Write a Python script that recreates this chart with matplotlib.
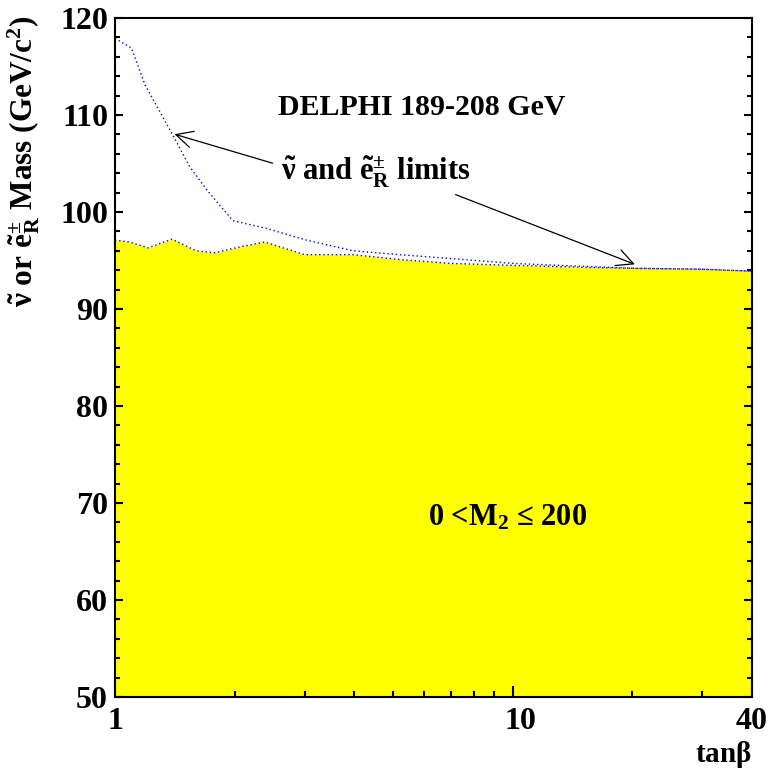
import matplotlib
matplotlib.use("Agg")
import matplotlib.pyplot as plt
import matplotlib.transforms as mtransforms
from matplotlib.ticker import FixedLocator, NullFormatter, MultipleLocator

# Data
sel_x = [1.0, 1.10, 1.19, 1.39, 1.54, 1.70, 1.98, 2.41, 3.03, 3.97, 5.2, 7.0, 10.0, 15.0, 20.0, 30.0, 40.0]
sel_y = [117.9, 116.9, 113.1, 108.1, 104.7, 102.3, 99.1, 98.3, 97.1, 96.0, 95.6, 95.2, 94.7, 94.4, 94.2, 94.1, 93.9]

snu_x = [1.0, 1.09, 1.21, 1.39, 1.60, 1.78, 2.06, 2.38, 3.0, 3.97, 5.2, 7.0, 10.0, 15.0, 20.0, 30.0, 40.0]
snu_y = [97.1, 96.9, 96.3, 97.2, 96.0, 95.8, 96.4, 96.9, 95.6, 95.6, 95.1, 94.7, 94.5, 94.3, 94.2, 94.1, 93.9]

x_major = [1, 10, 40]
x_major_labels = ["1", "10", "40"]
x_minor = [2, 3, 4, 5, 6, 7, 8, 9, 20, 30]
y_min, y_max = 50, 120

plt.rcParams['font.family'] = ['Liberation Serif', 'DejaVu Serif']
plt.rcParams['font.weight'] = 'bold'
plt.rcParams['mathtext.fontset'] = 'custom'
plt.rcParams['mathtext.rm'] = 'Liberation Serif:bold'
plt.rcParams['mathtext.it'] = 'Liberation Serif:bold'
plt.rcParams['mathtext.bf'] = 'Liberation Serif:bold'
plt.rcParams['mathtext.default'] = 'rm'

fig = plt.figure(figsize=(7.75, 7.76), dpi=100)
ax = fig.add_axes([115/775, 1 - 697/776, 637/775, (697 - 18)/776])

ax.set_xscale('log')
ax.set_xlim(1, 40)
ax.set_ylim(y_min, y_max)

ax.fill_between(snu_x, y_min, snu_y, color='#ffff00', lw=0, zorder=1)
ax.plot(snu_x, snu_y, color='blue', ls=(0, (1, 2)), lw=1.0, zorder=2)
ax.plot(sel_x, sel_y, color='blue', ls=(0, (1, 2)), lw=1.0, zorder=2)

ax.xaxis.set_major_locator(FixedLocator(x_major))
ax.set_xticklabels(x_major_labels)
ax.xaxis.set_minor_locator(FixedLocator(x_minor))
ax.xaxis.set_minor_formatter(NullFormatter())
ax.yaxis.set_major_locator(MultipleLocator(10))
ax.yaxis.set_minor_locator(MultipleLocator(2))

ax.tick_params(axis='both', which='both', direction='in', width=1.5)
ax.tick_params(axis='x', which='major', length=8, labelsize=23, pad=7, top=False)
ax.tick_params(axis='x', which='minor', length=4, top=False)
ax.tick_params(axis='y', which='major', length=6, labelsize=23, right=True, pad=5)
ax.tick_params(axis='y', which='minor', length=3.5, right=True)
for lab in ax.get_xticklabels() + ax.get_yticklabels():
    lab.set_fontweight('bold')
# ROOT-style slight shift of the middle log label
xl = ax.get_xticklabels()
xl[1].set_transform(xl[1].get_transform() + mtransforms.ScaledTranslation(8/100, 0, fig.dpi_scale_trans))
for s in ax.spines.values():
    s.set_linewidth(1.5)

ax.text(-0.143, 1.003, r'$\tilde{\nu}$ or $\tilde{e}^{\pm}_{R}$ Mass (GeV/c$^{2}$)',
        transform=ax.transAxes, rotation=90, ha='center', va='top', fontsize=22.5, fontweight='bold')
ax.text(1.0, -0.085, r'tan$\beta$', transform=ax.transAxes, ha='right', va='center',
        fontsize=21, fontweight='bold')

ax.text(5.92, 110.8, 'DELPHI 189-208 GeV', ha='center', va='center', fontsize=21.5, fontweight='bold')
ax.text(4.53, 104.1, r'$\tilde{\nu}$ and $\tilde{e}^{\pm}_{R}$ limits', ha='center', va='center',
        fontsize=22, fontweight='bold')
ax.text(9.7, 68.5, r'0 <M$_{2}$ ≤ 200', ha='center', va='center', fontsize=22, fontweight='bold')

ax.annotate('', xy=(1.39, 108.1), xytext=(2.53, 104.95),
            arrowprops=dict(arrowstyle='->', lw=0.9, color='black', mutation_scale=30))
ax.annotate('', xy=(20.6, 94.5), xytext=(7.08, 101.9),
            arrowprops=dict(arrowstyle='->', lw=0.9, color='black', mutation_scale=30))

fig.savefig('out.png', dpi=100)
